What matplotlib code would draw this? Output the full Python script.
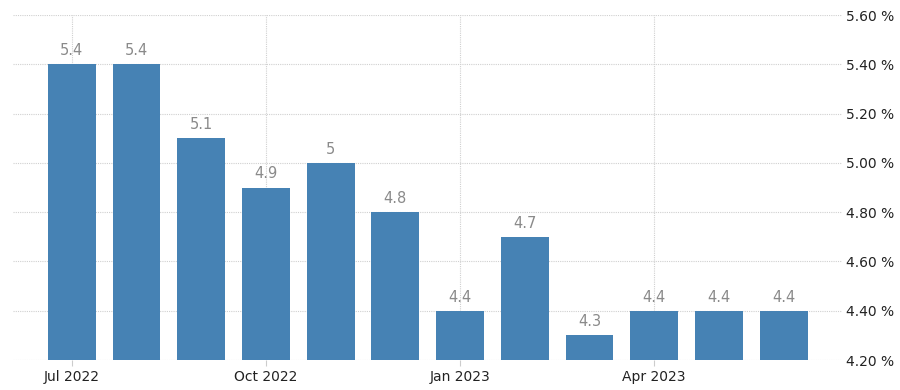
import matplotlib.pyplot as plt
from matplotlib.ticker import FuncFormatter

# monthly rate, Jul 2022 - Jun 2023
months = ['Jul 2022', 'Aug 2022', 'Sep 2022', 'Oct 2022', 'Nov 2022', 'Dec 2022',
          'Jan 2023', 'Feb 2023', 'Mar 2023', 'Apr 2023', 'May 2023', 'Jun 2023']
values = [5.4, 5.4, 5.1, 4.9, 5.0, 4.8, 4.4, 4.7, 4.3, 4.4, 4.4, 4.4]
labels = ['5.4', '5.4', '5.1', '4.9', '5', '4.8', '4.4', '4.7', '4.3', '4.4', '4.4', '4.4']
tick_idx = [0, 3, 6, 9]
yticks = [4.2, 4.4, 4.6, 4.8, 5.0, 5.2, 5.4, 5.6]

base = 4.2
fig = plt.figure(figsize=(9, 3.9), dpi=100)
ax = fig.add_axes([0.0144, 0.0769, 0.921, 0.8846])

x = list(range(len(values)))
ax.bar(x, [v - base for v in values], bottom=base, width=0.74, color='#4682b4', zorder=3)
for xi, v, lab in zip(x, values, labels):
    ax.text(xi, v + 0.025, lab, ha='center', va='bottom', fontsize=10.5, color='#8a8a8a')

ax.set_ylim(4.2, 5.6)
ax.set_xlim(-0.91, 11.9)
ax.set_yticks(yticks)
ax.yaxis.set_major_formatter(FuncFormatter(lambda v, p: f'{v:.2f} %'))
ax.yaxis.tick_right()
ax.set_xticks(tick_idx)
ax.set_xticklabels([months[i] for i in tick_idx])

ax.grid(True, color='#d0d0d0', linestyle=(0, (1, 1)), linewidth=0.8, zorder=0)
for s in ax.spines.values():
    s.set_visible(False)
ax.tick_params(axis='y', length=0, pad=3, labelsize=10, labelcolor='#222222')
ax.tick_params(axis='x', length=4, color='#cccccc', pad=3, labelsize=10, labelcolor='#222222')

fig.savefig('out.png', dpi=100)
